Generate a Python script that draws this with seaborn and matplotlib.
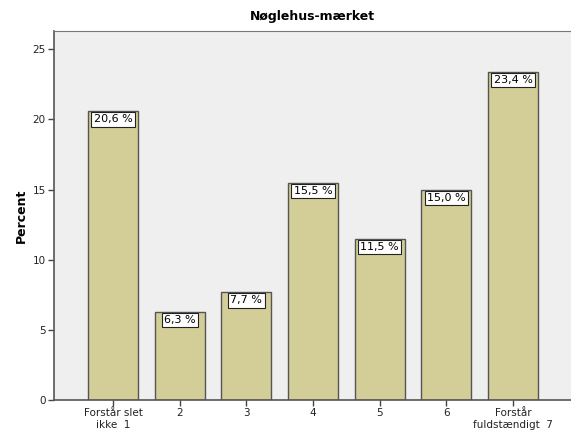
import pandas as pd
import seaborn as sns
import matplotlib.pyplot as plt

# Chart data
categories = ['Forstår slet\nikke  1', '2', '3', '4', '5', '6', 'Forstår\nfuldstændigt  7']
percents = [20.6, 6.3, 7.7, 15.5, 11.5, 15.0, 23.4]
value_labels = ['20,6 %', '6,3 %', '7,7 %', '15,5 %', '11,5 %', '15,0 %', '23,4 %']

df = pd.DataFrame({'category': categories, 'percent': percents})

sns.set_style('white')
plt.rcParams['font.family'] = ['DejaVu Sans']

fig = plt.figure(figsize=(5.71, 4.30), dpi=100)
ax = fig.add_axes([0.0946, 0.0698, 0.9054, 0.858])
ax.set_facecolor('#efefef')

sns.barplot(data=df, x='category', y='percent', color='#d3ce97',
            edgecolor='#555555', linewidth=1, width=0.75, saturation=1, ax=ax)

# value boxes sit just inside the top of each bar
for i, (v, lab) in enumerate(zip(percents, value_labels)):
    ax.annotate(lab, xy=(i, v), xytext=(0, -2.5), textcoords='offset points',
                ha='center', va='top', fontsize=8, color='black',
                bbox=dict(boxstyle='square,pad=0.2', fc='white', ec='#222222', lw=0.8))

ax.set_xlim(-0.885, 6.87)
ax.set_ylim(0, 26.3)
ax.set_yticks([0, 5, 10, 15, 20, 25])
ax.set_xlabel('')
ax.set_ylabel('Percent', fontsize=9, fontweight='bold', labelpad=3, color='black')
ax.set_title('Nøglehus-mærket', fontsize=9, fontweight='bold', pad=8, color='black')

ax.tick_params(axis='both', direction='out', length=4, width=1, colors='#444444',
               labelsize=7.5, labelcolor='#222222', pad=2,
               bottom=True, left=True)
for side in ['left', 'bottom']:
    ax.spines[side].set_color('#555555')
    ax.spines[side].set_linewidth(1.2)
ax.spines['top'].set_color('#777777')
ax.spines['right'].set_visible(False)

fig.savefig('out.png', dpi=100)
